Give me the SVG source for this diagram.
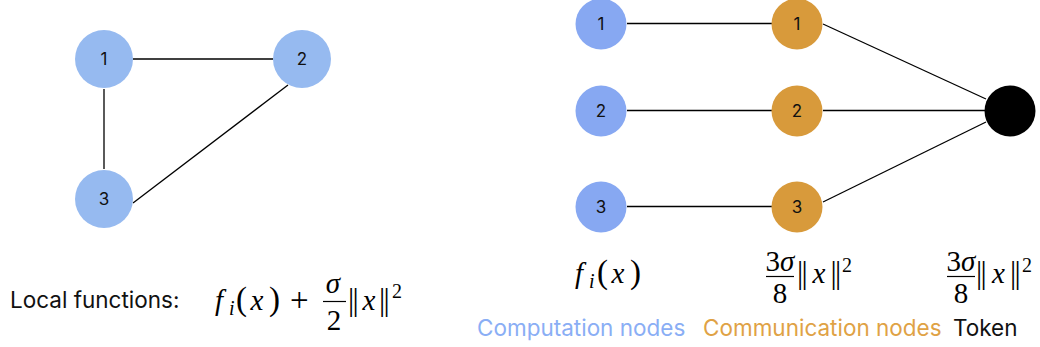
<svg xmlns="http://www.w3.org/2000/svg" width="1040" height="347" viewBox="0 0 1040 347">
<style>
.edge{stroke:#000;stroke-width:1.3;fill:none}
.lbl{font-family:Inter,"Liberation Sans",sans-serif;font-size:17px;fill:#111;text-anchor:middle;dominant-baseline:central}
.txt{font-family:Inter,"Liberation Sans",sans-serif;font-size:22.5px}
.m{font-family:"Liberation Serif","DejaVu Serif",serif;font-size:29px;fill:#000}
.p{font-family:"Liberation Serif","DejaVu Serif",serif;font-size:33px;fill:#000}
.mi{font-style:italic}
.ms{font-size:20px}
.b{font-family:"Liberation Serif","DejaVu Serif",serif;font-size:31px;fill:#000;text-anchor:middle}
</style>
<rect width="1040" height="347" fill="#fff"/>
<g id="connectors">
<line class="edge" x1="133" y1="59" x2="273" y2="59"/>
<line class="edge" x1="104" y1="89" x2="104" y2="169"/>
<line class="edge" x1="288" y1="85" x2="133" y2="203"/>
<line class="edge" x1="627" y1="23.5" x2="772" y2="23.5"/>
<line class="edge" x1="627" y1="110.5" x2="772" y2="110.5"/>
<line class="edge" x1="627" y1="206.5" x2="772" y2="206.5"/>
<line class="edge" x1="823" y1="24" x2="986" y2="99"/>
<line class="edge" x1="823" y1="110.5" x2="985" y2="110.5"/>
<line class="edge" x1="823" y1="202" x2="986" y2="122"/>
</g>
<g id="L1"><circle cx="104" cy="59" r="29" fill="#96BAF0"/><text class="lbl" x="104" y="59">1</text></g>
<g id="L2"><circle cx="302" cy="59" r="29" fill="#96BAF0"/><text class="lbl" x="302" y="59">2</text></g>
<g id="L3"><circle cx="104" cy="199" r="29" fill="#96BAF0"/><text class="lbl" x="104" y="199">3</text></g>
<g id="C1"><circle cx="601" cy="24" r="25.5" fill="#87A8F2"/><text class="lbl" x="601" y="24">1</text></g>
<g id="C2"><circle cx="601" cy="111" r="25.5" fill="#87A8F2"/><text class="lbl" x="601" y="111">2</text></g>
<g id="C3"><circle cx="601" cy="207" r="25.5" fill="#87A8F2"/><text class="lbl" x="601" y="207">3</text></g>
<g id="M1"><circle cx="797" cy="24" r="25.5" fill="#D89A3B"/><text class="lbl" x="797" y="24">1</text></g>
<g id="M2"><circle cx="797" cy="111" r="25.5" fill="#D89A3B"/><text class="lbl" x="797" y="111">2</text></g>
<g id="M3"><circle cx="797" cy="207" r="25.5" fill="#D89A3B"/><text class="lbl" x="797" y="207">3</text></g>
<g id="T"><circle cx="1010" cy="111" r="25.5" fill="#000"/></g>
<g id="texts">
<text class="txt" x="10" y="308" fill="#111">Local functions:</text>
<!-- left formula -->
<text class="m mi" x="215" y="310">f</text>
<text class="m mi ms" x="229" y="315">i</text>
<text class="p" x="236" y="310">(</text>
<text class="m mi" x="257" y="310" text-anchor="middle">x</text>
<text class="p" x="269" y="310">)</text>
<text class="p" x="290" y="311">+</text>
<text class="m mi" x="333" y="293" text-anchor="middle">σ</text>
<line x1="323" y1="301.5" x2="346" y2="301.5" stroke="#000" stroke-width="1.2"/>
<text class="m" x="334" y="330" text-anchor="middle">2</text>
<text class="b" x="351" y="310">|</text><text class="b" x="355.5" y="310">|</text>
<text class="m mi" x="369" y="310" text-anchor="middle">x</text>
<text class="b" x="382" y="310">|</text><text class="b" x="386.5" y="310">|</text>
<text class="m ms" x="392" y="298">2</text>
<!-- right f_i(x) -->
<text class="m mi" x="575" y="283">f</text>
<text class="m mi ms" x="589" y="288">i</text>
<text class="p" x="597" y="283">(</text>
<text class="m mi" x="618" y="283" text-anchor="middle">x</text>
<text class="p" x="630" y="283">)</text>
<!-- 3sigma/8 ||x||^2 (comm) -->
<text class="m" x="780" y="271" text-anchor="middle">3<tspan class="mi">σ</tspan></text>
<line x1="766" y1="276.5" x2="794" y2="276.5" stroke="#000" stroke-width="1.2"/>
<text class="m" x="780" y="303" text-anchor="middle">8</text>
<text class="b" x="800" y="283">|</text><text class="b" x="804.5" y="283">|</text>
<text class="m mi" x="819" y="283" text-anchor="middle">x</text>
<text class="b" x="833.5" y="283">|</text><text class="b" x="838" y="283">|</text>
<text class="m ms" x="842" y="272">2</text>
<!-- token -->
<text class="m" x="961" y="271" text-anchor="middle">3<tspan class="mi">σ</tspan></text>
<line x1="947" y1="276.5" x2="975" y2="276.5" stroke="#000" stroke-width="1.2"/>
<text class="m" x="961" y="303" text-anchor="middle">8</text>
<text class="b" x="979" y="283">|</text><text class="b" x="983.5" y="283">|</text>
<text class="m mi" x="998.5" y="283" text-anchor="middle">x</text>
<text class="b" x="1013" y="283">|</text><text class="b" x="1017.5" y="283">|</text>
<text class="m ms" x="1022" y="272">2</text>
<text class="txt" x="477" y="336" fill="#8AAEF5">Computation nodes</text>
<text class="txt" x="703" y="336" fill="#DFA245">Communication nodes</text>
<text class="txt" x="953" y="336" fill="#111">Token</text>
</g>
</svg>
